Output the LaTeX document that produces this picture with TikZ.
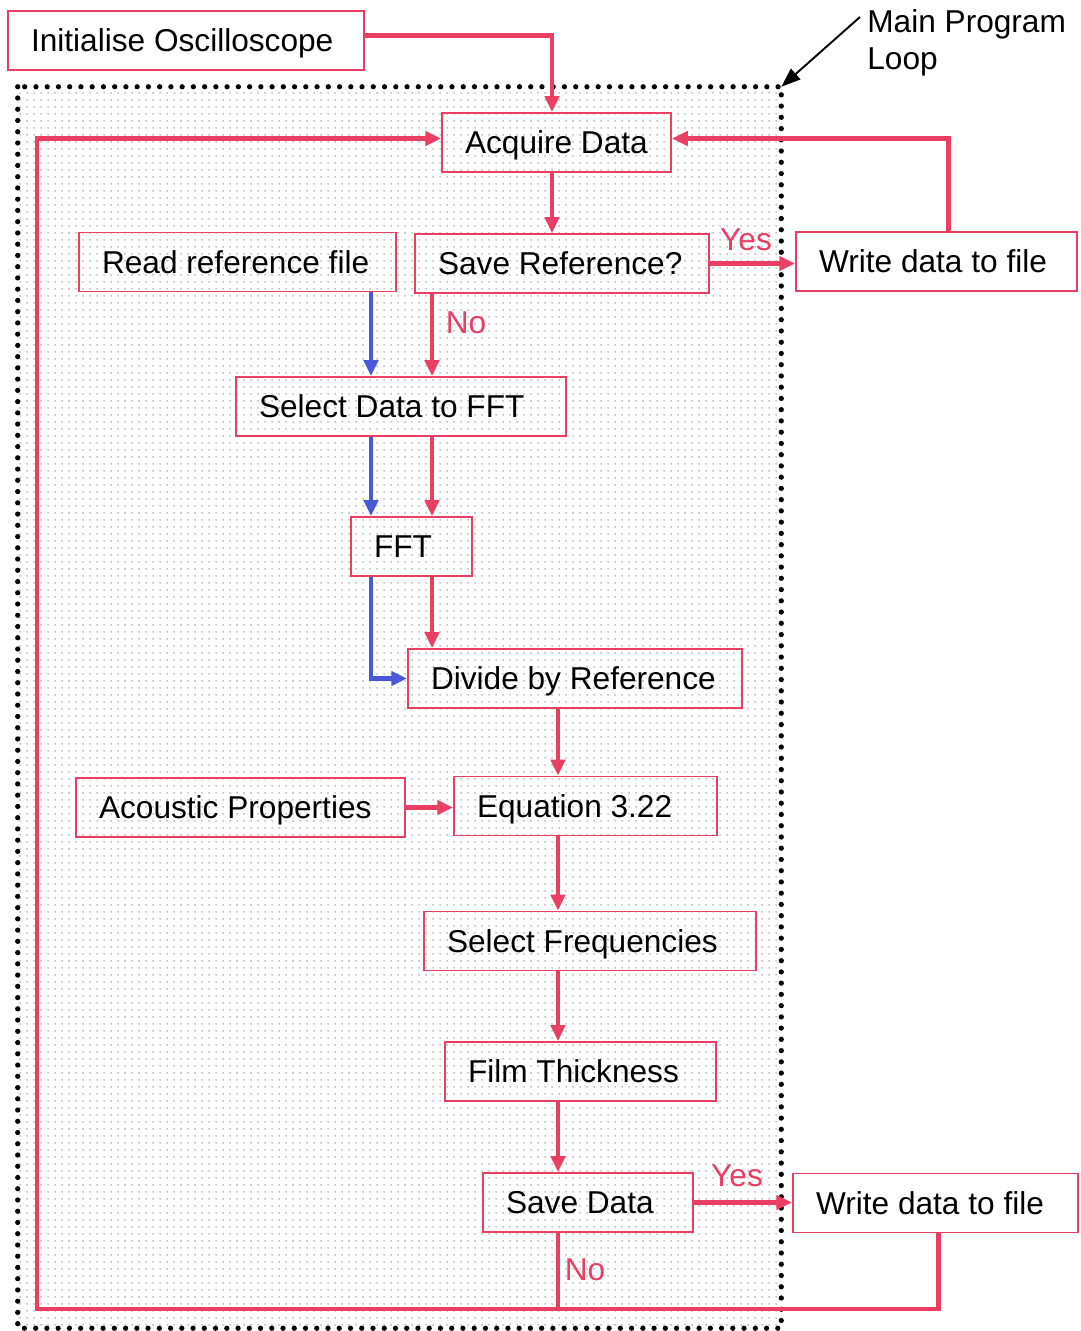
\documentclass[tikz,border=0pt]{standalone}
\usepackage{fontspec}
\setmainfont{Liberation Sans}
\usepackage{tikz}
\usetikzlibrary{arrows.meta,patterns.meta}
\definecolor{linered}{RGB}{234,62,98}
\definecolor{lineblue}{RGB}{72,88,214}
\tikzstyle{flow} = [line width=2.3pt, draw=linered, -{Triangle[length=9pt,width=8pt]}]
\tikzstyle{refflow} = [flow, draw=lineblue]
\tikzstyle{answer} = [text=linered, inner sep=0pt, font=\fontsize{18}{21}\selectfont]

\begin{document}
\begin{tikzpicture}[x=0.02cm, y=-0.02cm,
		stage/.style={
				rectangle,
				draw=linered,
				line width=1.1pt,
				minimum height=1.18cm,
				inner xsep=0.46cm,
				inner ysep=0pt,
				text depth=0pt,
				font=\fontsize{18}{21}\selectfont,
				execute at begin node={\hbox to #1\bgroup},
				execute at end node={\hfil\egroup},
			},
		loopframe/.style={
				rectangle,
				minimum width=15.26cm,
				minimum height=24.82cm,
				inner sep=0pt,
				pattern={Dots[distance=4pt, radius=0.5pt]},
				pattern color=gray!85,
			}
	]

	\fill[white] (0,0) rectangle (1080,1331);
	\useasboundingbox (0,0) rectangle (1080,1331);

	% main loop area
	\node[loopframe] (loop) at (399.5,707.5) {};
	\draw[line width=3pt, dash pattern=on 0pt off 6.4pt, line cap=round]
		(loop.north west) rectangle (loop.south east);

	% columns used by the vertical links
	\coordinate (bluecol) at (371,0);
	\coordinate (redcol) at (432,0);
	\coordinate (maincol) at (558,0);
	\coordinate (leftcol) at (37,0);
	\coordinate (retrow) at (0,1309);

	% boxes
	\node[stage=6.20cm] (init) at (186,40.5) {Initialise Oscilloscope};
	\node[stage=3.66cm] (acq) at (556.5,142.5) {Acquire Data};
	\node[stage=5.42cm] (readref) at (237.5,262) {Read reference file};
	\node[stage=4.96cm] (saveref) at (562,263.5) {Save Reference?};
	\node[stage=4.70cm] (wtop) at (936.5,261.5) {Write data to file};
	\node[stage=5.68cm] (selfft) at (401,406.5) {Select Data to FFT};
	\node[stage=1.50cm] (fft) at (411.5,546.5) {FFT};
	\node[stage=5.76cm] (divref) at (575,678.5) {Divide by Reference};
	\node[stage=5.66cm] (acoustic) at (240.5,807.5) {Acoustic Properties};
	\node[stage=4.34cm] (eqn) at (585.5,806) {Equation 3.22};
	\node[stage=5.72cm] (selfreq) at (590,941) {Select Frequencies};
	\node[stage=4.50cm] (film) at (580.5,1071.5) {Film Thickness};
	\node[stage=3.28cm] (savedata) at (588,1202.5) {Save Data};
	\node[stage=4.78cm] (wbot) at (935.5,1203) {Write data to file};

	% label for the loop
	\node[anchor=west, align=left, inner sep=0pt, font=\fontsize{18}{21}\selectfont] (looplabel) at (867,43) {Main Program\\Loop};
	\coordinate (looptail) at (860,17);
	\draw[line width=1.1pt, -{Triangle[length=11pt,width=8pt]}] (looptail) -- (loop.north east);

	% answers
	\node[answer] (yestop) at (746,240) {Yes};
	\node[answer] (notop) at (466,323) {No};
	\node[answer] (yesbot) at (737,1176) {Yes};
	\node[answer] (nobot) at (585,1270) {No};

	% Connections
	\draw[flow] ([yshift=0.1cm]init.east) -| ([xshift=-0.09cm]acq.north);
	\draw[flow] ([xshift=-0.09cm]acq.south) -- ([xshift=-0.09cm]acq.south |- saveref.north);
	\draw[flow] (saveref.east) -- (saveref.east -| wtop.west);
	\draw[flow] ([xshift=0.24cm]wtop.north) |- ([yshift=0.08cm]acq.east);
	\draw[flow] (saveref.south -| redcol) -- (selfft.north -| redcol);
	\draw[refflow] (readref.south -| bluecol) -- (selfft.north -| bluecol);
	\draw[refflow] (selfft.south -| bluecol) -- (fft.north -| bluecol);
	\draw[flow] (selfft.south -| redcol) -- (fft.north -| redcol);
	\draw[refflow] (fft.south -| bluecol) |- (divref.west);
	\draw[flow] (fft.south -| redcol) -- (divref.north -| redcol);
	\draw[flow] (divref.south -| maincol) -- (eqn.north -| maincol);
	\draw[flow] (acoustic.east) -- (acoustic.east -| eqn.west);
	\draw[flow] (eqn.south -| maincol) -- (selfreq.north -| maincol);
	\draw[flow] (selfreq.south -| maincol) -- (film.north -| maincol);
	\draw[flow] (film.south -| maincol) -- (savedata.north -| maincol);
	\draw[flow] (savedata.east) -- (savedata.east -| wbot.west);
	\draw[flow, -] (savedata.south -| maincol) -- (retrow -| maincol);
	\draw[flow] ([xshift=0.06cm]wbot.south) |- (retrow -| leftcol) |- ([yshift=0.08cm]acq.west);

\end{tikzpicture}
\end{document}
